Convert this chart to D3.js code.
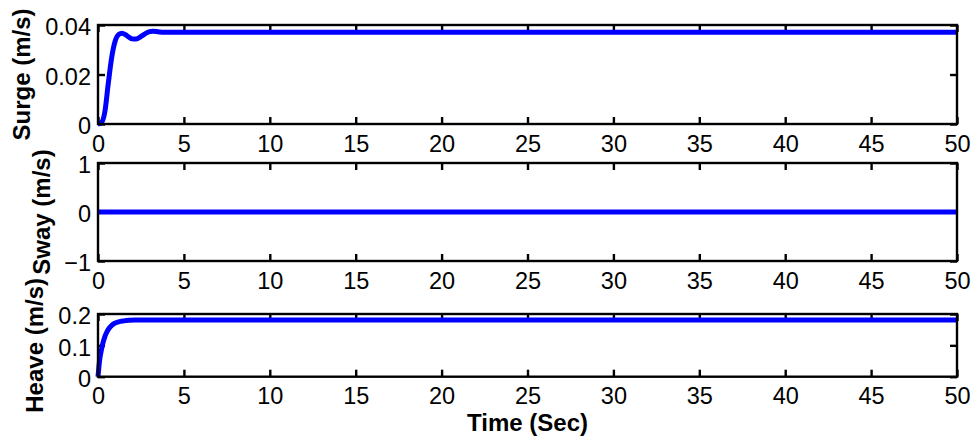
<!DOCTYPE html>
<html>
<head>
<meta charset="utf-8">
<script src="https://cdn.jsdelivr.net/npm/d3@7"></script>
<style>
  body { margin: 0; background: #fff; }
  svg { display: block; }
</style>
</head>
<body>
<div id="chart"></div>
<script>
// time ticks shared by all three panels
const timeTicks = [0, 5, 10, 15, 20, 25, 30, 35, 40, 45, 50];

// surge velocity (m/s)
const surgeTime   = [0, 0.2, 0.4, 0.6, 0.8, 1.0, 1.2, 1.4, 1.6, 1.8, 2.0, 2.2, 2.4, 2.6, 2.8, 3.0, 3.2, 3.4, 3.6, 3.8, 4.0, 5, 50];
const surgeValues = [0, 0.0006, 0.005, 0.0165, 0.027, 0.0335, 0.0362, 0.0367, 0.0361, 0.0351, 0.0344, 0.0343, 0.0349, 0.0358, 0.0367, 0.0373, 0.0375, 0.0374, 0.0372, 0.0371, 0.0371, 0.0371, 0.0371];
const surgeTicks  = [0, 0.02, 0.04];

// sway velocity (m/s)
const swayTime   = [0, 50];
const swayValues = [0, 0];
const swayTicks  = [-1, 0, 1];

// heave velocity (m/s)
const heaveTime   = [0, 0.05, 0.1, 0.2, 0.3, 0.4, 0.5, 0.6, 0.8, 1.0, 1.2, 1.5, 1.8, 2.2, 2.6, 3.0, 50];
const heaveValues = [0, 0.03, 0.055, 0.086, 0.11, 0.128, 0.141, 0.151, 0.164, 0.171, 0.175, 0.178, 0.18, 0.181, 0.181, 0.181, 0.181];
const heaveTicks  = [0, 0.1, 0.2];

const width = 976, height = 444;
const left = 98, right = 957;
const font = "'Liberation Sans', Arial, sans-serif";

const svg = d3.select("#chart").append("svg")
    .attr("width", width)
    .attr("height", height);

const x = d3.scaleLinear().domain([0, 50]).range([left, right]);
const fmt = d3.format("~g");

// one panel per signal
const panels = [
    {label: "Surge (m/s)", time: surgeTime, values: surgeValues, ticks: surgeTicks, top: 25,  bottom: 124,   labelX: 30},
    {label: "Sway (m/s)",  time: swayTime,  values: swayValues,  ticks: swayTicks,  top: 163, bottom: 261,   labelX: 50},
    {label: "Heave (m/s)", time: heaveTime, values: heaveValues, ticks: heaveTicks, top: 314, bottom: 376.7, labelX: 43}
];

panels.forEach(function(p) {
    const y = d3.scaleLinear()
        .domain([p.ticks[0], p.ticks[p.ticks.length - 1]])
        .range([p.bottom, p.top]);

    const g = svg.append("g");

    // bottom axis with labels, ticks pointing inward
    g.append("g")
        .attr("transform", "translate(0," + p.bottom + ")")
        .call(d3.axisBottom(x).tickValues(timeTicks).tickFormat(fmt).tickSizeInner(-7).tickSizeOuter(0).tickPadding(11));

    // top axis, ticks only
    g.append("g")
        .attr("transform", "translate(0," + p.top + ")")
        .call(d3.axisTop(x).tickValues(timeTicks).tickFormat("").tickSizeInner(-7).tickSizeOuter(0));

    // left axis with labels
    g.append("g")
        .attr("transform", "translate(" + left + ",0)")
        .call(d3.axisLeft(y).tickValues(p.ticks).tickFormat(fmt).tickSizeInner(-7).tickSizeOuter(0).tickPadding(7));

    // right axis, ticks only
    g.append("g")
        .attr("transform", "translate(" + right + ",0)")
        .call(d3.axisRight(y).tickValues(p.ticks).tickFormat("").tickSizeInner(-7).tickSizeOuter(0));

    g.selectAll(".domain").remove();
    g.selectAll(".tick line").attr("stroke", "#000").attr("stroke-width", 2.4);
    g.selectAll(".tick text")
        .attr("fill", "#000")
        .style("font-family", font)
        .style("font-size", "23.5px");
    g.selectAll(".tick text").filter(function() { return d3.select(this).attr("dy") === "0.32em"; })
        .attr("dy", "0.42em");

    // the data line
    const line = d3.line()
        .x(function(d) { return x(d[0]); })
        .y(function(d) { return y(d[1]); })
        .curve(d3.curveMonotoneX);

    g.append("path")
        .datum(d3.zip(p.time, p.values))
        .attr("d", line)
        .style("fill", "none")
        .style("stroke", "#0000ff")
        .style("stroke-width", 5)
        .style("stroke-linejoin", "round");

    // box
    g.append("rect")
        .attr("x", left)
        .attr("y", p.top)
        .attr("width", right - left)
        .attr("height", p.bottom - p.top)
        .style("fill", "none")
        .style("stroke", "#000")
        .style("stroke-width", 2.4);

    // y label
    g.append("text")
        .attr("transform", "translate(" + p.labelX + "," + ((p.top + p.bottom) / 2) + ") rotate(-90)")
        .attr("text-anchor", "middle")
        .style("font-family", font)
        .style("font-size", "24px")
        .style("font-weight", "bold")
        .text(p.label);
});

svg.append("text")
    .attr("x", (left + right) / 2)
    .attr("y", 431)
    .attr("text-anchor", "middle")
    .style("font-family", font)
    .style("font-size", "24px")
    .style("font-weight", "bold")
    .text("Time (Sec)");
</script>
</body>
</html>
